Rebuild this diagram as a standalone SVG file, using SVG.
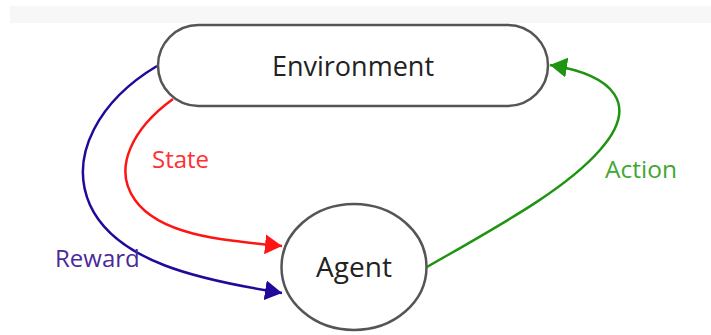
<svg xmlns="http://www.w3.org/2000/svg" width="711" height="335" viewBox="0 0 711 335">
<style>
.node{fill:#fff;stroke:#555;stroke-width:2.5}
.lbl{font-family:"Open Sans","Noto Sans",sans-serif}
.conn{fill:none;stroke-width:2.5}
</style>
<defs>
<marker id="aBlue" markerUnits="userSpaceOnUse" markerWidth="18" markerHeight="20" refX="17" refY="10" orient="auto"><path d="M0,0 L17,10 L0,20 Z" fill="#1f0a99"/></marker>
<marker id="aRed" markerUnits="userSpaceOnUse" markerWidth="18" markerHeight="20" refX="17" refY="10" orient="auto"><path d="M0,0 L17,10 L0,20 Z" fill="#ff1414"/></marker>
<marker id="aGreen" markerUnits="userSpaceOnUse" markerWidth="18" markerHeight="20" refX="17" refY="10" orient="auto"><path d="M0,0 L17,10 L0,20 Z" fill="#1e9410"/></marker>
</defs>
<rect x="0" y="0" width="711" height="335" fill="#fff"/>
<rect x="10" y="6" width="701" height="17" fill="#f7f7f7"/>
<g id="connectors">
<path class="conn" stroke="#1f0a99" d="M157,66 C100,100 68,155 90,205 C116,262 200,280 282,293" marker-end="url(#aBlue)"/>
<path class="conn" stroke="#ff1414" d="M173,99 C133,128 112,168 135,200 C160,235 220,240 282,246" marker-end="url(#aRed)"/>
<path class="conn" stroke="#1e9410" d="M427,267 C500,225 565,190 600,150 C640,105 615,75 550,65" marker-end="url(#aGreen)"/>
<text class="lbl" x="152" y="168" font-size="24" fill="#ff3030">State</text>
<text class="lbl" x="55" y="267" font-size="24" fill="#4a2a9a">Reward</text>
<text class="lbl" x="605" y="178" font-size="24.5" fill="#3fa832">Action</text>
</g>
<g id="environment">
<rect class="node" x="158" y="25" width="390" height="81" rx="40.5"/>
<text class="lbl" x="353" y="76" font-size="27" fill="#222" text-anchor="middle">Environment</text>
</g>
<g id="agent">
<ellipse class="node" cx="354" cy="267" rx="72.5" ry="63"/>
<text class="lbl" x="354" y="277" font-size="28" fill="#222" text-anchor="middle">Agent</text>
</g>
</svg>
